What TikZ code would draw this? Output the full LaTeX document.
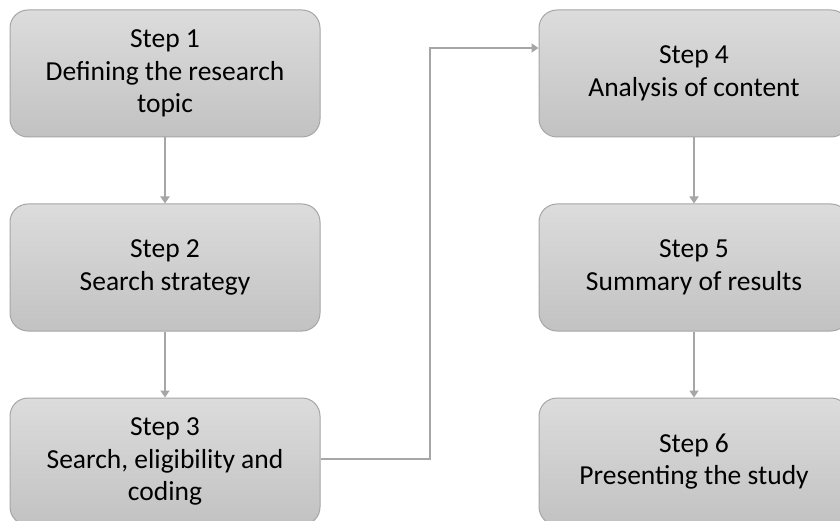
\documentclass[tikz,border=0pt]{standalone}
\usepackage{fontspec}
\setmainfont{Carlito}
\usetikzlibrary{arrows.meta}
\definecolor{edgegray}{HTML}{A6A6A6}
\definecolor{topgray}{HTML}{DCDCDC}
\definecolor{botgray}{HTML}{C2C2C2}
\tikzset{
  stepbox/.style={draw=edgegray, line width=1pt, rounded corners=18pt,
    top color=topgray, bottom color=botgray, minimum width=310pt, minimum height=127pt,
    align=center, font=\fontsize{27.5}{32.5}\selectfont, text=black, inner sep=0pt},
  conn/.style={draw=edgegray, line width=2.6pt, -{Triangle[length=7pt,width=9pt]}}
}
\begin{document}
\begin{tikzpicture}[x=1pt,y=1pt]
\useasboundingbox (0,0) rectangle (840,520);
\clip (0,0) rectangle (840,520);
\fill[white] (0,0) rectangle (840,520);
\node[stepbox] (s1) at (165,446.5) {Step 1\\Defining the research\\topic};
\node[stepbox] (s2) at (165,252.5) {Step 2\\Search strategy};
\node[stepbox] (s3) at (165,58.5) {Step 3\\Search, eligibility and\\coding};
\node[stepbox] (s4) at (694,446.5) {Step 4\\Analysis of content};
\node[stepbox] (s5) at (694,252.5) {Step 5\\Summary of results};
\node[stepbox] (s6) at (694,58.5) {Step 6\\Presenting the study};
\coordinate (b1) at (430,61);
\coordinate (b2) at (430,472);
\draw[conn] (s1.south) -- (s2.north);
\draw[conn] (s2.south) -- (s3.north);
\draw[conn] (s4.south) -- (s5.north);
\draw[conn] (s5.south) -- (s6.north);
\draw[conn] (s3.east |- b1) -- (b1) -- (b2) -- (s4.west |- b2);
\end{tikzpicture}
\end{document}
